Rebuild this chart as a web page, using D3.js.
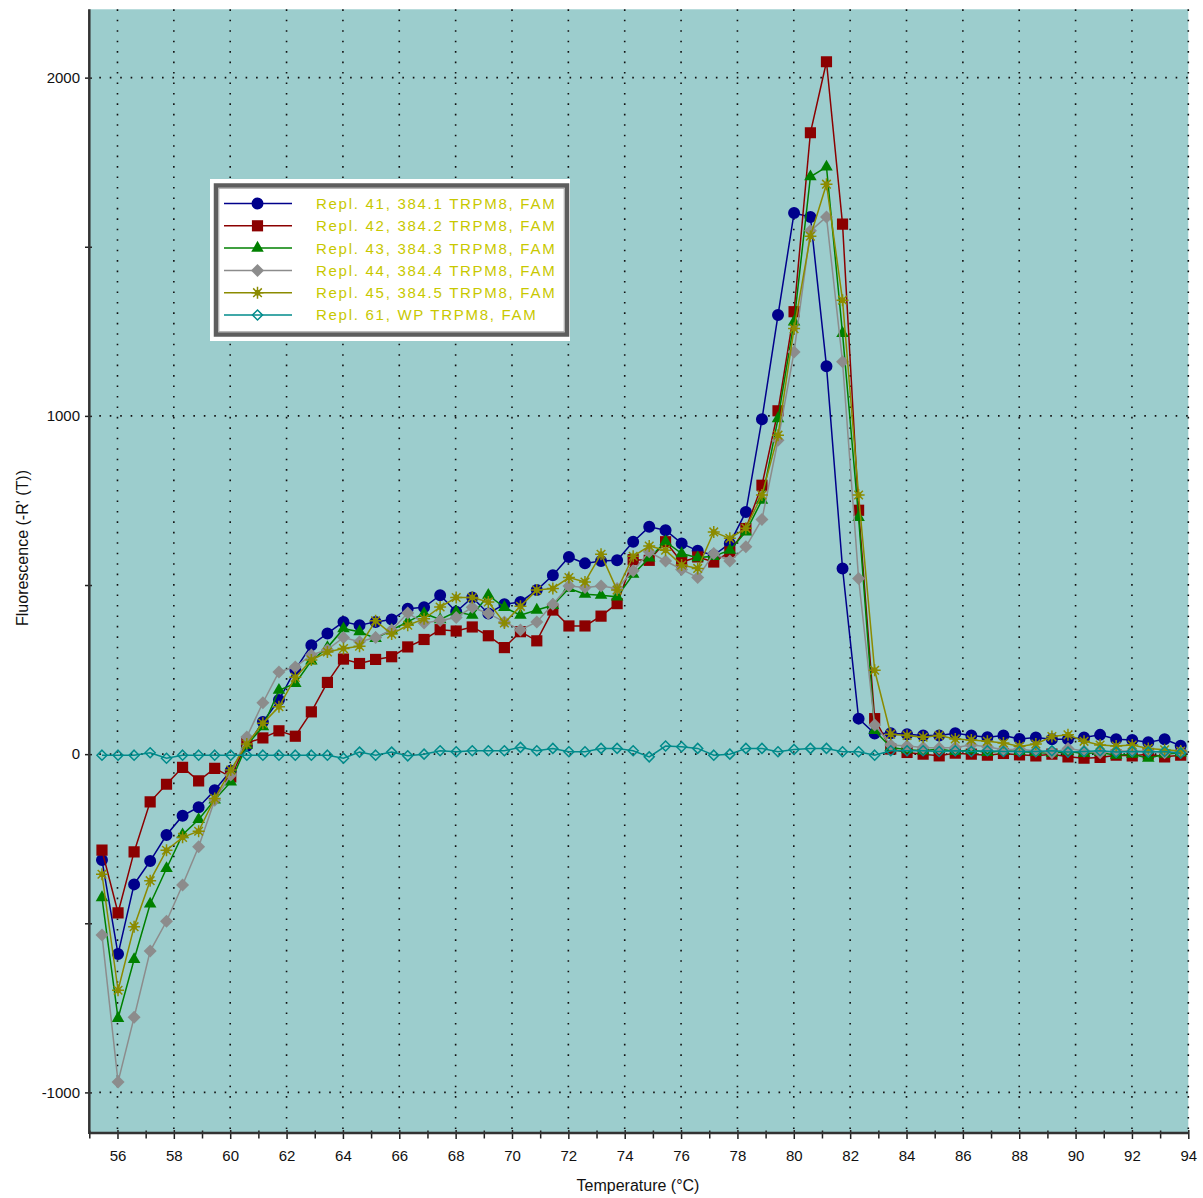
<!DOCTYPE html>
<html>
<head>
<meta charset="utf-8">
<script src="https://cdn.jsdelivr.net/npm/d3@7"></script>
<style>
body { margin: 0; background: #fff; }
</style>
</head>
<body>
<div id="paper"></div>
<script>
// melt curve, -R'(T) against temperature, one value per reading
const temps = [55.45, 56.02, 56.59, 57.16, 57.74, 58.31, 58.88, 59.45, 60.02, 60.59,
	61.16, 61.73, 62.31, 62.88, 63.45, 64.02, 64.59, 65.16, 65.73, 66.30,
	66.88, 67.45, 68.02, 68.59, 69.16, 69.73, 70.30, 70.88, 71.45, 72.02,
	72.59, 73.16, 73.73, 74.30, 74.87, 75.45, 76.02, 76.59, 77.16, 77.73,
	78.30, 78.87, 79.44, 80.01, 80.59, 81.16, 81.73, 82.30, 82.87, 83.44,
	84.02, 84.59, 85.16, 85.73, 86.30, 86.87, 87.44, 88.01, 88.59, 89.16,
	89.73, 90.30, 90.87, 91.44, 92.01, 92.58, 93.16, 93.73];

const repl41 = [-313, -591, -385, -316, -239, -182, -157, -107, -49, 24,
	95, 160, 250, 322, 357, 391, 381, 391, 398, 430,
	434, 470, 421, 463, 416, 443, 450, 485, 529, 583,
	564, 571, 573, 628, 672, 662, 623, 601, 588, 623,
	716, 990, 1298, 1600, 1588, 1147, 549, 105, 61, 62,
	59, 55, 55, 62, 55, 50, 55, 45, 49, 44,
	44, 49, 57, 44, 42, 35, 44, 25];

const repl42 = [-284, -469, -289, -141, -89, -39, -79, -42, -67, 33,
	48, 69, 53, 125, 212, 281, 268, 280, 288, 317,
	339, 368, 364, 376, 350, 315, 362, 335, 426, 379,
	379, 408, 445, 575, 573, 628, 568, 583, 568, 598,
	667, 795, 1015, 1308, 1837, 2047, 1567, 721, 105, 15,
	5, 0, -5, 3, 0, -3, 2, -2, -5, 0,
	-8, -12, -10, -3, -5, 0, -8, -3];

const repl43 = [-424, -781, -607, -443, -338, -238, -193, -135, -82, 27,
	81, 189, 209, 276, 315, 371, 362, 342, 367, 391,
	416, 398, 421, 411, 470, 434, 411, 426, 440, 490,
	473, 470, 465, 532, 580, 628, 593, 581, 585, 603,
	657, 751, 992, 1278, 1707, 1736, 1244, 700, 70, 20,
	13, 10, 15, 8, 12, 5, 10, 8, 5, 3,
	8, 2, 5, -3, 0, -12, 0, 4];

const repl44 = [-535, -969, -778, -582, -494, -387, -274, -136, -62, 51,
	152, 243, 258, 293, 309, 345, 332, 345, 367, 417,
	388, 395, 404, 434, 416, 391, 367, 391, 443, 497,
	493, 497, 490, 542, 598, 571, 546, 522, 593, 571,
	613, 694, 928, 1189, 1547, 1588, 1160, 519, 86, 27,
	24, 20, 18, 20, 27, 22, 13, 15, 9, 4,
	17, 9, 4, 9, 9, 9, 4, 6];

const repl45 = [-355, -698, -510, -374, -284, -246, -228, -131, -47, 30,
	91, 140, 227, 278, 302, 312, 319, 394, 355, 381,
	400, 435, 463, 463, 450, 388, 437, 485, 490, 522,
	509, 591, 485, 585, 615, 603, 559, 549, 657, 638,
	668, 766, 943, 1258, 1531, 1685, 1342, 766, 248, 59,
	55, 50, 55, 45, 42, 38, 33, 23, 30, 52,
	57, 38, 27, 24, 27, 17, 13, 9];

const repl61 = [-3, -3, -3, 4, -12, -3, -3, -3, -3, -3,
	-3, -3, -3, -3, -3, -12, 6, -3, 6, -5,
	0, 10, 7, 10, 10, 10, 20, 10, 17, 7,
	7, 17, 17, 10, -8, 24, 22, 17, -3, 0,
	17, 17, 7, 14, 17, 17, 7, 7, -3, 10,
	10, 10, 8, 10, 8, 10, 8, 8, 8, 10,
	6, 8, 10, 6, 8, 6, 8, 3];

const names = ["Repl. 41, 384.1 TRPM8, FAM", "Repl. 42, 384.2 TRPM8, FAM", "Repl. 43, 384.3 TRPM8, FAM",
	"Repl. 44, 384.4 TRPM8, FAM", "Repl. 45, 384.5 TRPM8, FAM", "Repl. 61, WP TRPM8, FAM"];
const values = [repl41, repl42, repl43, repl44, repl45, repl61];

const xMajor = [56, 58, 60, 62, 64, 66, 68, 70, 72, 74, 76, 78, 80, 82, 84, 86, 88, 90, 92, 94];
const xMinor = [55, 57, 59, 61, 63, 65, 67, 69, 71, 73, 75, 77, 79, 81, 83, 85, 87, 89, 91, 93];
const yMajor = [-1000, 0, 1000, 2000];
const yMinor = [-500, 500, 1500];

// look of each series
const colors = ["#00008b", "#8b0000", "#008000", "#8c8c8c", "#8b8b00", "#008b8b"];
const shapes = ["circle", "square", "triangle", "diamond", "star", "open"];

const W = 1203, H = 1198;
const pL = 89.3, pR = 1188.3, pT = 9.3, pB = 1133;
const font = "'Liberation Sans', Arial, sans-serif";

const x = d3.scaleLinear().domain([55, 94]).range([pL, pR]);
const y = d3.scaleLinear().domain([-1120, 2202]).range([pB, pT]);

const svg = d3.select("#paper").append("svg")
	.attr("width", W)
	.attr("height", H)
	.style("font-family", font);

svg.append("rect")
	.attr("x", pL).attr("y", pT)
	.attr("width", pR - pL).attr("height", pB - pT)
	.attr("fill", "#9ccdcd");

svg.append("clipPath").attr("id", "plotclip")
	.append("rect")
	.attr("x", pL).attr("y", pT - 8)
	.attr("width", pR - pL + 8).attr("height", pB - pT + 8);

// dotted grid
let grid = svg.append("g")
	.attr("stroke", "#111")
	.attr("stroke-width", 1.6)
	.attr("stroke-dasharray", "1.6,8.85");

grid.selectAll("line.v").data(xMajor).join("line")
	.attr("class", "v")
	.attr("x1", d => x(d)).attr("x2", d => x(d))
	.attr("y1", pT).attr("y2", pB);

grid.selectAll("line.h").data(yMajor).join("line")
	.attr("class", "h")
	.attr("x1", pL + 10).attr("x2", pR)
	.attr("y1", d => y(d)).attr("y2", d => y(d));

let symbolPath = (shape) => ({
	"circle": () => d3.symbol(d3.symbolCircle, 113)(),
	"square": () => d3.symbol(d3.symbolSquare, 125)(),
	"triangle": () => d3.symbol(d3.symbolTriangle, 68)(),
	"diamond": () => "M0,-6.5L6.5,0L0,6.5L-6.5,0Z",
	"star": () => "M-6,0L6,0M0,-6L0,6M-4.3,-4.3L4.3,4.3M-4.3,4.3L4.3,-4.3M-2,-2L2,-2L2,2L-2,2Z",
	"open": () => "M0,-5L5,0L0,5L-5,0Z"
})[shape]();

let styleMarker = (sel, i) => {
	if(shapes[i] == "star")
		sel.attr("fill", colors[i]).attr("stroke", colors[i]).attr("stroke-width", 1.5);
	else if(shapes[i] == "open")
		sel.attr("fill", "none").attr("stroke", colors[i]).attr("stroke-width", 1.5);
	else
		sel.attr("fill", colors[i]).attr("stroke", "none");
};

const line = d3.line()
	.x(d => x(d[0]))
	.y(d => y(d[1]));

const plot = svg.append("g").attr("clip-path", "url(#plotclip)");

values.forEach((vals, i) => {
	let pts = temps.map((t, k) => [t, vals[k]]);

	plot.append("path")
		.datum(pts)
		.attr("fill", "none")
		.attr("stroke", colors[i])
		.attr("stroke-width", 1.5)
		.attr("d", line);

	plot.append("g").selectAll("path")
		.data(pts)
		.join("path")
		.attr("transform", d => `translate(${x(d[0])},${y(d[1])})`)
		.attr("d", symbolPath(shapes[i]))
		.call(styleMarker, i);
});

// axes
svg.append("g")
	.attr("transform", `translate(92,0)`)
	.call(d3.axisLeft(y).tickValues(yMajor).tickSize(7).tickPadding(5).tickFormat(d => String(d)));
svg.append("g")
	.attr("transform", `translate(92,0)`)
	.call(d3.axisLeft(y).tickValues(yMinor).tickSize(7).tickFormat(""));

svg.append("g")
	.attr("transform", `translate(0,1130)`)
	.call(d3.axisBottom(x).tickValues(xMajor).tickSize(9).tickPadding(11).tickFormat(d => String(d)));
svg.append("g")
	.attr("transform", `translate(0,1130.5)`)
	.call(d3.axisBottom(x).tickValues(xMinor).tickSize(8).tickFormat(""));

svg.selectAll(".domain").remove();
svg.selectAll(".tick line").attr("stroke", "#222").attr("stroke-width", 1.5);
svg.selectAll(".tick text")
	.attr("font-family", font)
	.attr("font-size", 15)
	.attr("fill", "#111");

svg.append("line")
	.attr("x1", pL).attr("x2", pL)
	.attr("y1", pT).attr("y2", pB + 1)
	.attr("stroke", "#333").attr("stroke-width", 2.5);
svg.append("line")
	.attr("x1", pL).attr("x2", pR)
	.attr("y1", pB).attr("y2", pB)
	.attr("stroke", "#333").attr("stroke-width", 2.5);

svg.append("text")
	.attr("x", 638)
	.attr("y", 1191)
	.attr("text-anchor", "middle")
	.attr("font-size", 16)
	.attr("fill", "#111")
	.text("Temperature (°C)");

svg.append("text")
	.attr("transform", "translate(28,548) rotate(-90)")
	.attr("text-anchor", "middle")
	.attr("font-size", 16)
	.attr("fill", "#111")
	.text("Fluorescence (-R' (T))");

// legend
const legend = svg.append("g");

legend.append("rect")
	.attr("x", 210).attr("y", 179)
	.attr("width", 360).attr("height", 162)
	.attr("fill", "#fff");
legend.append("rect")
	.attr("x", 216).attr("y", 185.5)
	.attr("width", 351).attr("height", 149)
	.attr("fill", "#fff")
	.attr("stroke", "#5e5e5e")
	.attr("stroke-width", 4.5);
legend.append("rect")
	.attr("x", 218.8).attr("y", 188.3)
	.attr("width", 345.4).attr("height", 143.4)
	.attr("fill", "none")
	.attr("stroke", "#a8a8a8")
	.attr("stroke-width", 1);

const rows = legend.selectAll("g.row")
	.data(names)
	.join("g")
	.attr("class", "row")
	.attr("transform", (d, i) => `translate(0,${203.5 + i * 22.3})`);

rows.append("line")
	.attr("x1", 224).attr("x2", 292)
	.attr("stroke", (d, i) => colors[i])
	.attr("stroke-width", 1.5);

rows.append("path")
	.attr("transform", "translate(257.5,0)")
	.attr("d", (d, i) => symbolPath(shapes[i]))
	.each(function(d, i){ d3.select(this).call(styleMarker, i); });

rows.append("text")
	.attr("x", 316)
	.attr("y", 5.4)
	.attr("font-size", 15)
	.attr("letter-spacing", 1.72)
	.attr("fill", "#c8c800")
	.text(d => d);
</script>
</body>
</html>
